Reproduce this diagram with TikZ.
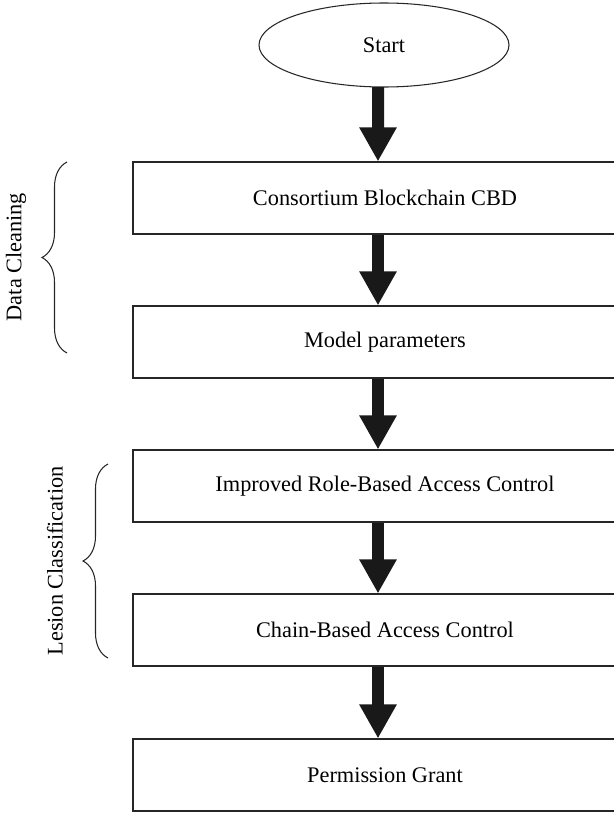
\documentclass[tikz,border=0pt]{standalone}
\usepackage{fontspec}
\setmainfont{Liberation Serif}
\usetikzlibrary{arrows.meta}
\usetikzlibrary{decorations.pathreplacing}

\begin{document}
\begin{tikzpicture}[font=\fontsize{12.7}{15}\selectfont,
	stepbox/.style={draw=black!85,line width=0.6pt,minimum width=10.08cm,minimum height=1.44cm},
	outline/.style={draw=black!85,line width=0.6pt},
	flow/.style={line width=0.24cm,color=black!90,-{Triangle[width=0.7cm,length=0.68cm]}},
	groupbrace/.style={draw=black!85,line width=0.6pt,decorate,decoration={brace,amplitude=0.5cm}}]
					\useasboundingbox (0,0) rectangle (12.28,-16.28);
					\node (start) at (7.68,-0.90) {Start};
					\draw[outline] (start.center) ellipse [x radius=2.5cm, y radius=0.84cm];
					\coordinate (startend) at ([yshift=-0.84cm]start.center);
					% process steps
					\foreach \name/\y/\txt in {cbd/-3.96/Consortium Blockchain CBD, model/-6.84/Model parameters, rbac/-9.72/Improved Role-Based Access Control, chain/-12.60/Chain-Based Access Control, grant/-15.50/Permission Grant} {
						\node[stepbox] (\name) at (7.7,\y) {\txt};
					}
					% arrows between the steps
					\draw[flow] ([xshift=-0.12cm]startend) -- ([xshift=-0.14cm]cbd.north);
					\foreach \from/\to in {cbd/model, model/rbac, rbac/chain, chain/grant} {
						\draw[flow] ([xshift=-0.14cm]\from.south) -- ([xshift=-0.14cm]\to.north);
					}
					% groups on the left
					\draw[groupbrace] (1.34,-7.06) -- (1.34,-3.24);
					\node[rotate=90] (cleaning) at (0.32,-5.14) {Data Cleaning};
					\draw[groupbrace] (2.16,-13.16) -- (2.16,-9.28);
					\node[rotate=90] (lesion) at (1.10,-11.22) {Lesion Classification};
				\end{tikzpicture}
\end{document}
